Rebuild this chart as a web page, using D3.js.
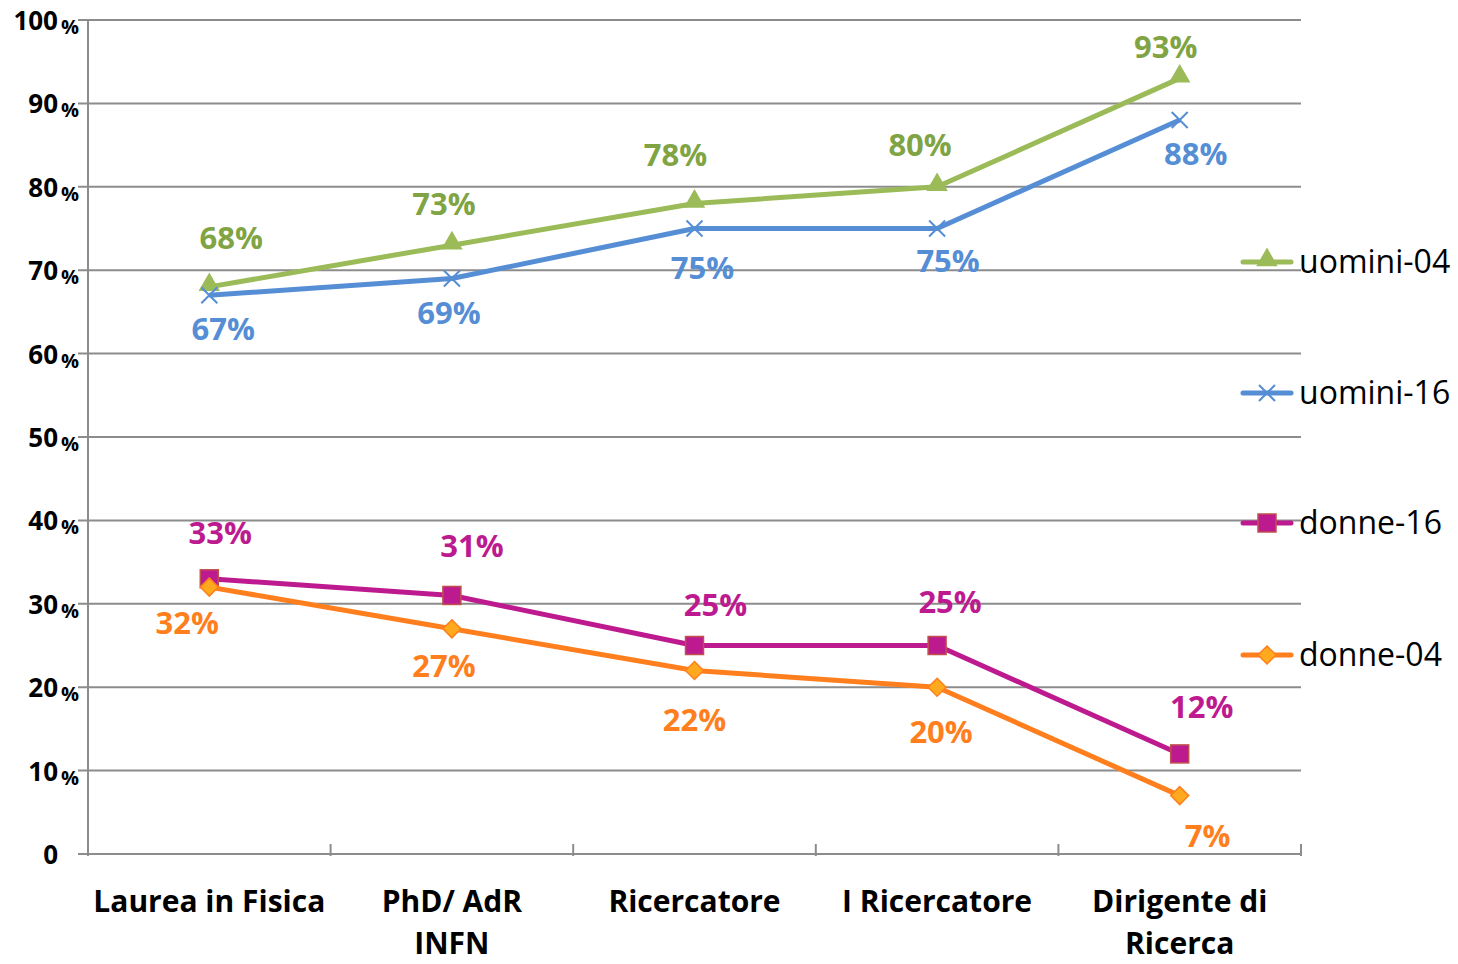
<!DOCTYPE html>
<html>
  <head>
    <meta charset="utf-8">
    <style>
      body { margin: 0; background: #fff; }
      svg { font-family: "Open Sans", Lato, sans-serif; }
    </style>
    <script src="https://cdn.jsdelivr.net/npm/d3@7"></script>
    <title>uomini / donne</title>
  </head>
  <body>
    <div id="chart"></div>
    <script>
    // categorie asse x
    var categories = ["Laurea in Fisica", "PhD/ AdR INFN", "Ricercatore", "I Ricercatore", "Dirigente di Ricerca"]
    var catLines = [["Laurea in Fisica"], ["PhD/ AdR", "INFN"], ["Ricercatore"], ["I Ricercatore"], ["Dirigente di", "Ricerca"]]
    var yTicks = [0, 10, 20, 30, 40, 50, 60, 70, 80, 90, 100]

    // valori delle serie (%)
    var uomini04 = [68, 73, 78, 80, 93]
    var uomini16 = [67, 69, 75, 75, 88]
    var donne16 = [33, 31, 25, 25, 12]
    var donne04 = [32, 27, 22, 20, 7]

    // spostamento etichette (come nel grafico originale)
    var nudge04u = [[22, -49], [-8, -41], [-19, -48], [-17, -42], [-14, -31]]
    var nudge16u = [[14, 34], [-3, 34], [8, 39], [11, 32], [16, 34]]
    var nudge16d = [[11, -46], [20, -49], [21, -41], [13, -44], [22, -47]]
    var nudge04d = [[-22, 36], [-8, 37], [0, 49], [4, 45], [28, 40]]

    var series = [
      {name: "uomini-04", values: uomini04, color: "#9bbb59", label: "#80a444", marker: "triangle", nudge: nudge04u, ly: 262},
      {name: "uomini-16", values: uomini16, color: "#558ed5", label: "#558ed5", marker: "x", nudge: nudge16u, ly: 393},
      {name: "donne-16", values: donne16, color: "#bd1a90", label: "#bd1a90", marker: "square", nudge: nudge16d, ly: 523},
      {name: "donne-04", values: donne04, color: "#ff7f1e", label: "#ff7f1e", marker: "diamond", nudge: nudge04d, ly: 655}
    ]

    var W = 1458, H = 964
    var mLeft = 88, mRight = 1301, mTop = 20, mBottom = 854

    var svg = d3.select("#chart").append("svg")
      .attr("width", W).attr("height", H)

    var x = d3.scaleBand().domain(categories).range([mLeft, mRight])
    var y = d3.scaleLinear().domain([0, 100]).range([mBottom, mTop])
    var cx = function(i) { return x(categories[i]) + x.bandwidth() / 2 }

    // griglia
    svg.selectAll(".grid").data(yTicks.filter(function(d) { return d > 0 })).enter()
      .append("line")
      .attr("x1", mLeft - 10).attr("x2", mRight)
      .attr("y1", function(d) { return y(d) }).attr("y2", function(d) { return y(d) })
      .attr("stroke", "#8c8c8c").attr("stroke-width", 2)

    // assi
    svg.append("line").attr("x1", mLeft).attr("x2", mLeft).attr("y1", mTop).attr("y2", mBottom + 2)
      .attr("stroke", "#8c8c8c").attr("stroke-width", 2)
    svg.append("line").attr("x1", mLeft - 10).attr("x2", mRight).attr("y1", mBottom).attr("y2", mBottom)
      .attr("stroke", "#8c8c8c").attr("stroke-width", 2)
    var bounds = categories.map(function(c) { return x(c) }).concat([mRight])
    svg.selectAll(".xtick").data(bounds.slice(1)).enter().append("line")
      .attr("x1", function(d) { return d }).attr("x2", function(d) { return d })
      .attr("y1", mBottom - 10).attr("y2", mBottom + 2)
      .attr("stroke", "#8c8c8c").attr("stroke-width", 2)

    // etichette asse y
    svg.selectAll(".ylab").data(yTicks).enter().append("text")
      .attr("x", 58)
      .attr("y", function(d) { return y(d) + 10 })
      .attr("text-anchor", "end")
      .attr("font-weight", "bold").attr("font-size", 26)
      .attr("fill", "#000")
      .text(function(d) { return d })
    svg.selectAll(".ypct").data(yTicks.filter(function(d) { return d > 0 })).enter().append("text")
      .attr("x", 61)
      .attr("y", function(d) { return y(d) + 14 })
      .attr("font-weight", "bold").attr("font-size", 20)
      .attr("fill", "#000")
      .text("%")

    // etichette asse x
    catLines.forEach(function(lines, i) {
      lines.forEach(function(t, j) {
        svg.append("text")
          .attr("x", cx(i)).attr("y", 912 + j * 42)
          .attr("text-anchor", "middle")
          .attr("font-weight", "bold").attr("font-size", 30)
          .attr("fill", "#000")
          .text(t)
      })
    })

    function drawMarker(g, type, color, px, py) {
      if (type == "triangle") {
        g.append("path").attr("d", d3.symbol().type(d3.symbolTriangle).size(200)())
          .attr("transform", "translate(" + px + "," + (py - 2) + ")")
          .attr("fill", color)
      } else if (type == "x") {
        g.append("path").attr("d", "M-8,-8L8,8M-8,8L8,-8")
          .attr("transform", "translate(" + px + "," + py + ")")
          .attr("stroke", color).attr("stroke-width", 2).attr("fill", "none")
      } else if (type == "square") {
        g.append("rect").attr("x", px - 9).attr("y", py - 9).attr("width", 18).attr("height", 18)
          .attr("fill", "#bd1a90").attr("stroke", "#c0504d").attr("stroke-width", 1.5)
      } else if (type == "diamond") {
        g.append("path").attr("d", "M0,-9L9,0L0,9L-9,0Z")
          .attr("transform", "translate(" + px + "," + py + ")")
          .attr("fill", "#ffa91e").attr("stroke", "#ff7f1e").attr("stroke-width", 1.5)
      }
    }

    var line = d3.line()
      .x(function(d, i) { return cx(i) })
      .y(function(d) { return y(d) })

    series.forEach(function(s) {
      var g = svg.append("g")
      g.append("path").attr("d", line(s.values))
        .attr("fill", "none").attr("stroke", s.color).attr("stroke-width", 5)
        .attr("stroke-linejoin", "round")
      s.values.forEach(function(v, i) {
        drawMarker(g, s.marker, s.color, cx(i), y(v))
      })
      s.values.forEach(function(v, i) {
        g.append("text")
          .attr("x", cx(i) + s.nudge[i][0])
          .attr("y", y(v) + s.nudge[i][1] + 11)
          .attr("text-anchor", "middle")
          .attr("font-weight", "bold").attr("font-size", 31)
          .attr("fill", s.label)
          .text(v + "%")
      })
      // legenda
      var lg = svg.append("g")
      lg.append("line").attr("x1", 1243).attr("x2", 1291).attr("y1", s.ly).attr("y2", s.ly)
        .attr("stroke", s.color).attr("stroke-width", 5).attr("stroke-linecap", "round")
      drawMarker(lg, s.marker, s.color, 1267, s.ly)
      lg.append("text").attr("x", 1299).attr("y", s.ly + 11)
        .attr("font-size", 32).attr("fill", "#000")
        .text(s.name)
    })
    </script>
  </body>
</html>
